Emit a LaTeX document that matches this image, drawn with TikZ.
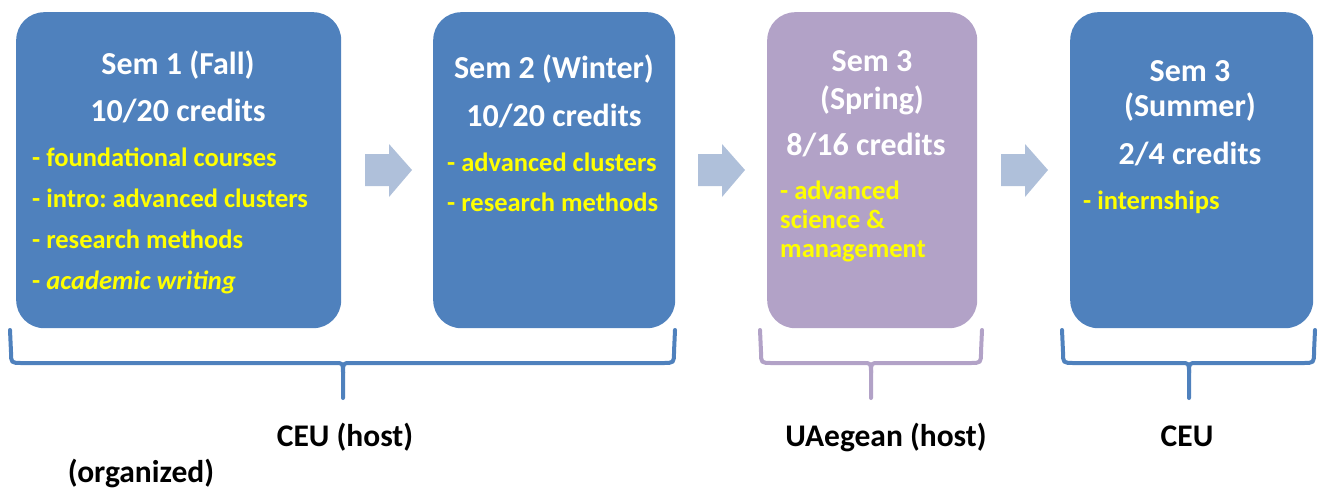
\documentclass[tikz,border=0pt]{standalone}
\usepackage{fontspec}
\setmainfont{Carlito}
\frenchspacing
\definecolor{boxblue}{HTML}{4F81BD}
\definecolor{boxpurple}{HTML}{B2A2C7}
\definecolor{arrowblue}{HTML}{AFC0DA}
\definecolor{txtyellow}{HTML}{FFFF00}
\begin{document}
\begin{tikzpicture}[x=1pt,y=-1pt,
  box/.style={rounded corners=28pt, inner sep=0pt, anchor=north west},
  head/.style={text=white, font=\bfseries\fontsize{32}{32}\selectfont, anchor=base, inner sep=0pt},
  item/.style={text=txtyellow, font=\bfseries\fontsize{26.5}{26.5}\selectfont, anchor=base west, inner sep=0pt},
  blockarrow/.style={fill=arrowblue},
  brk/.style={line width=4pt, line cap=round, line join=round},
  lbl/.style={text=black, font=\bfseries\fontsize{31.5}{31.5}\selectfont, anchor=base, inner sep=0pt}]
\useasboundingbox (0,0) rectangle (1319,491);
% boxes
\node[box, fill=boxblue, minimum width=325pt, minimum height=316pt] (b1) at (16,12) {};
\node[box, fill=boxblue, minimum width=242pt, minimum height=316pt] (b2) at (433,12) {};
\node[box, fill=boxpurple, minimum width=210pt, minimum height=316pt] (b3) at (767,12) {};
\node[box, fill=boxblue, minimum width=243pt, minimum height=316pt] (b4) at (1070,12) {};
% box 1 text
\node[head] (h1a) at (178,74) {Sem 1 (Fall)};
\node[head] (h1b) at (178,121) {10/20 credits};
\node[item] (i1a) at (32,166) {- foundational courses};
\node[item] (i1b) at (32,207) {- intro: advanced clusters};
\node[item] (i1c) at (32,248) {- research methods};
\node[item] (i1d) at (32,289) {- \textit{academic writing}};
% box 2 text
\node[head] (h2a) at (554,78) {Sem 2 (Winter)};
\node[head] (h2b) at (554,126) {10/20 credits};
\node[item] (i2a) at (447,171) {- advanced clusters};
\node[item] (i2b) at (447,211) {- research methods};
% box 3 text
\node[head] (h3a) at (872,71) {Sem 3};
\node[head] (h3b) at (872,109) {(Spring)};
\node[head] (h3c) at (866,155) {8/16 credits};
\node[item] (i3a) at (780,199) {- advanced};
\node[item] (i3b) at (780,228) {science \&};
\node[item] (i3c) at (780,257) {management};
% box 4 text
\node[head] (h4a) at (1190,81) {Sem 3};
\node[head] (h4b) at (1190,116) {(Summer)};
\node[head] (h4c) at (1190,164) {2/4 credits};
\node[item] (i4a) at (1083,209) {- internships};
% block arrows
\fill[blockarrow] (365,154) -- (389,154) -- (389,144) -- (412,170) -- (389,197) -- (389,186) -- (365,186) -- cycle;
\fill[blockarrow] (698,154) -- (722,154) -- (722,144) -- (745,170) -- (722,197) -- (722,186) -- (698,186) -- cycle;
\fill[blockarrow] (1001,154) -- (1025,154) -- (1025,144) -- (1048,170) -- (1025,197) -- (1025,186) -- (1001,186) -- cycle;
% brackets
\draw[brk, boxblue] (10,330) -- (11,352) .. controls (11,363) .. (22,363) -- (335,363) .. controls (343,363) .. (343,373) -- (343,398);
\draw[brk, boxblue] (675,330) -- (674,352) .. controls (674,363) .. (663,363) -- (351,363) .. controls (343,363) .. (343,373);
\draw[brk, boxpurple] (760,330) -- (761,352) .. controls (761,363) .. (772,363) -- (863,363) .. controls (871,363) .. (871,373) -- (871,398);
\draw[brk, boxpurple] (982,330) -- (981,352) .. controls (981,363) .. (970,363) -- (879,363) .. controls (871,363) .. (871,373);
\draw[brk, boxblue] (1062,330) -- (1063,352) .. controls (1063,363) .. (1074,363) -- (1181,363) .. controls (1189,363) .. (1189,373) -- (1189,398);
\draw[brk, boxblue] (1315,330) -- (1314,352) .. controls (1314,363) .. (1303,363) -- (1197,363) .. controls (1189,363) .. (1189,373);
% labels
\node[lbl] (l1) at (345,446) {CEU (host)};
\node[lbl] (l2) at (141,482) {(organized)};
\node[lbl] (l3) at (886,446) {UAegean (host)};
\node[lbl] (l4) at (1187,446) {CEU};
\end{tikzpicture}
\end{document}
